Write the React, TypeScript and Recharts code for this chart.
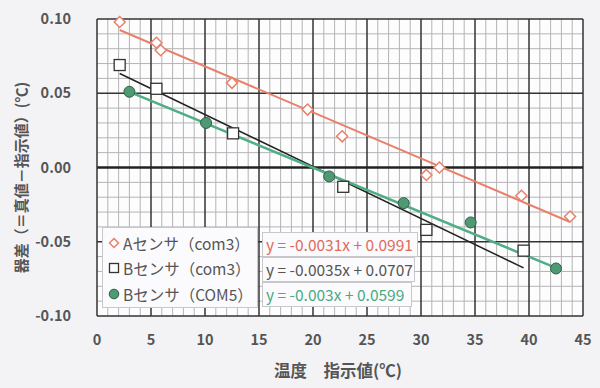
import React from "react";
import {
  ComposedChart,
  Scatter,
  Line,
  XAxis,
  YAxis,
  ReferenceArea,
  ReferenceLine,
} from "recharts";

// A sensor (com3)
const sensorA = [
  { x: 2.1, y: 0.098 },
  { x: 5.5, y: 0.084 },
  { x: 5.9, y: 0.079 },
  { x: 12.5, y: 0.057 },
  { x: 19.5, y: 0.039 },
  { x: 22.7, y: 0.021 },
  { x: 30.5, y: -0.005 },
  { x: 31.7, y: 0.0 },
  { x: 39.3, y: -0.019 },
  { x: 43.8, y: -0.033 },
];

// B sensor (com3)
const sensorB3 = [
  { x: 2.1, y: 0.069 },
  { x: 5.5, y: 0.053 },
  { x: 12.6, y: 0.023 },
  { x: 22.8, y: -0.013 },
  { x: 30.5, y: -0.042 },
  { x: 39.5, y: -0.056 },
];

// B sensor (COM5)
const sensorB5 = [
  { x: 3.0, y: 0.051 },
  { x: 10.1, y: 0.03 },
  { x: 21.5, y: -0.006 },
  { x: 28.4, y: -0.024 },
  { x: 34.6, y: -0.037 },
  { x: 42.5, y: -0.068 },
];

// trendline ends as drawn
const trendA = [
  { x: 2.1, y: 0.0926 },
  { x: 43.8, y: -0.0367 },
];
const trendB3 = [
  { x: 2.1, y: 0.0633 },
  { x: 39.5, y: -0.0676 },
];
const trendB5 = [
  { x: 3.0, y: 0.0509 },
  { x: 42.5, y: -0.0676 },
];

const xTicks = [0, 5, 10, 15, 20, 25, 30, 35, 40, 45];
const xMinor = [
  1, 2, 3, 4, 6, 7, 8, 9, 11, 12, 13, 14, 16, 17, 18, 19, 21, 22, 23, 24, 26,
  27, 28, 29, 31, 32, 33, 34, 36, 37, 38, 39, 41, 42, 43, 44,
];
const yTicks = [-0.1, -0.05, 0, 0.05, 0.1];
const yMinor = [
  -0.09, -0.08, -0.07, -0.06, -0.04, -0.03, -0.02, -0.01, 0.01, 0.02, 0.03,
  0.04, 0.06, 0.07, 0.08, 0.09,
];

const legendItems = ["Aセンサ（com3）", "Bセンサ（com3）", "Bセンサ（COM5）"];
const equations = [
  { text: "y = -0.0031x + 0.0991", color: "#e06a5c", width: 156 },
  { text: "y = -0.0035x + 0.0707", color: "#555", width: 153 },
  { text: "y = -0.003x + 0.0599", color: "#4aa985", width: 150 },
];

const RED = "#e8806a";
const GREEN = "#4f9a74";
const FONT = "'Noto Sans CJK JP', 'Noto Sans', sans-serif";

const Diamond = (p: any) => (
  <path
    d={`M${p.cx},${p.cy - 5.5}L${p.cx + 5.5},${p.cy}L${p.cx},${p.cy + 5.5}L${p.cx - 5.5},${p.cy}Z`}
    fill="#fff"
    stroke={RED}
    strokeWidth={1.5}
  />
);
const Square = (p: any) => (
  <rect x={p.cx - 5.5} y={p.cy - 5.5} width={11} height={11} fill="#fff" stroke="#333" strokeWidth={1.3} />
);
const Dot = (p: any) => <circle cx={p.cx} cy={p.cy} r={5.5} fill={GREEN} stroke="#2f5f45" strokeWidth={1} />;

const legendIcons = [
  <path d="M6,1.5L10.5,6L6,10.5L1.5,6Z" fill="#fff" stroke={RED} strokeWidth={1.5} />,
  <rect x={1.5} y={1.5} width={9} height={9} fill="#fff" stroke="#333" strokeWidth={1.3} />,
  <circle cx={6} cy={6} r={4.8} fill={GREEN} stroke="#2f5f45" />,
];

const YLabel = (props: any) => {
  const vb = props.viewBox;
  const cx = 20;
  const cy = vb.y + vb.height / 2 + 10;
  return (
    <text
      x={cx}
      y={cy}
      transform={`rotate(-90 ${cx} ${cy})`}
      textAnchor="middle"
      dominantBaseline="central"
      fill="#555"
      fontSize={15}
      fontWeight={700}
      fontFamily={FONT}
    >
      器差（＝真値－指示値）(℃)
    </text>
  );
};

function LegendBox() {
  return (
    <div
      style={{
        position: "absolute",
        left: 102,
        top: 227,
        display: "flex",
        fontFamily: FONT,
        fontSize: 15.5,
        color: "#555",
      }}
    >
      <div
        style={{
          width: 156,
          height: 81,
          boxSizing: "border-box",
          background: "#fbfbfd",
          border: "1px solid #c8c8cc",
          padding: "2px 0 0 5px",
        }}
      >
        {legendItems.map((name, i) => (
          <div key={name} style={{ display: "flex", alignItems: "center", height: 25.5, whiteSpace: "nowrap" }}>
            <svg width={12} height={12} style={{ marginRight: 3 }}>
              {legendIcons[i]}
            </svg>
            {name}
          </div>
        ))}
      </div>
      <div style={{ marginLeft: 4, marginTop: 5 }}>
        {equations.map((e) => (
          <div
            key={e.text}
            style={{
              width: e.width,
              height: 25,
              boxSizing: "border-box",
              background: "#fbfbfd",
              border: "1px solid #c8c8cc",
              color: e.color,
              fontSize: 15.5,
              lineHeight: "23px",
              paddingLeft: 3,
              whiteSpace: "nowrap",
              overflow: "hidden",
            }}
          >
            {e.text}
          </div>
        ))}
      </div>
    </div>
  );
}

export default function App() {
  const tickStyle = { fill: "#555", fontSize: 14.5, fontWeight: 700, fontFamily: FONT };
  return (
    <div style={{ position: "absolute", left: 0, top: 0, width: 600, height: 388, background: "#f3f3f6" }}>
      <ComposedChart width={600} height={388} margin={{ top: 19, right: 17, left: 0, bottom: 0 }}>
        <XAxis
          type="number"
          dataKey="x"
          domain={[0, 45]}
          ticks={xTicks}
          interval={0}
          tickLine={false}
          axisLine={{ stroke: "#333", strokeWidth: 1.5 }}
          tickMargin={13}
          height={72}
          tick={tickStyle}
          label={{
            value: "温度　指示値(℃)",
            position: "insideBottom",
            offset: 11,
            dx: -2,
            style: { fill: "#555", fontSize: 16.5, fontWeight: 700, fontFamily: FONT },
          }}
        />
        <YAxis
          type="number"
          dataKey="y"
          domain={[-0.1, 0.1]}
          ticks={yTicks}
          interval={0}
          tickFormatter={(v: number) => v.toFixed(2)}
          tickLine={false}
          axisLine={{ stroke: "#333", strokeWidth: 1.5 }}
          tickMargin={20}
          width={97}
          tick={tickStyle}
          label={YLabel}
        />
        <ReferenceArea x1={0} x2={45} y1={-0.1} y2={0.1} fill="#fdfdfe" fillOpacity={1} stroke="none" />
        {xMinor.map((v) => (
          <ReferenceLine key={"xm" + v} x={v} stroke="#b4b4b8" strokeWidth={1} />
        ))}
        {yMinor.map((v) => (
          <ReferenceLine key={"ym" + v} y={v} stroke="#b4b4b8" strokeWidth={1} />
        ))}
        {xTicks.slice(1).map((v) => (
          <ReferenceLine key={"x" + v} x={v} stroke="#333" strokeWidth={1.5} />
        ))}
        {[-0.05, 0.05, 0.1].map((v) => (
          <ReferenceLine key={"y" + v} y={v} stroke="#333" strokeWidth={1.5} />
        ))}
        <ReferenceLine y={0} stroke="#222" strokeWidth={2.5} />
        <Line data={trendA} dataKey="y" stroke={RED} strokeWidth={2} dot={false} isAnimationActive={false} />
        <Line data={trendB3} dataKey="y" stroke="#222" strokeWidth={1.5} dot={false} isAnimationActive={false} />
        <Line data={trendB5} dataKey="y" stroke="#4fae85" strokeWidth={2.5} dot={false} isAnimationActive={false} />
        <Scatter data={sensorA} shape={Diamond} isAnimationActive={false} />
        <Scatter data={sensorB3} shape={Square} isAnimationActive={false} />
        <Scatter data={sensorB5} shape={Dot} isAnimationActive={false} />
      </ComposedChart>
      <LegendBox />
    </div>
  );
}
